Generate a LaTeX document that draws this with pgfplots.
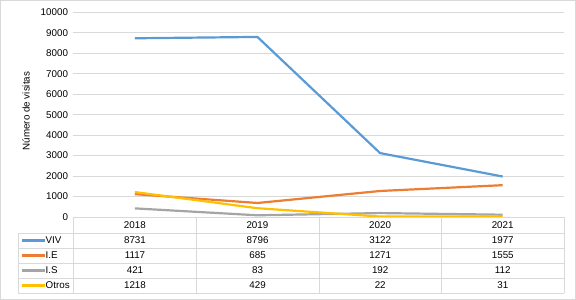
\documentclass[border=0pt]{standalone}
\usepackage{pgfplots}
\usepackage{pgfplotstable}
\pgfplotsset{compat=1.18}
\usepackage{fontspec}
\setmainfont{Liberation Sans}
\definecolor{cviv}{HTML}{5B9BD5}
\definecolor{cie}{HTML}{ED7D31}
\definecolor{cis}{HTML}{A5A5A5}
\definecolor{cot}{HTML}{FFC000}
\definecolor{cgrid}{HTML}{D9D9D9}
\pgfplotstableread{
x VIV IE IS Otros
0 8731 1117 421 1218
1 8796 685 83 429
2 3122 1271 192 22
3 1977 1555 112 31
}\datatable
\begin{document}
\begin{tikzpicture}[x=1pt,y=1pt,font=\fontsize{9.8}{11}\selectfont]
\begin{axis}[
  name=ax,
  scale only axis, width=490.5pt, height=204.7pt,
  xmin=-0.5, xmax=3.5, ymin=0, ymax=10000,
  xtick={0,1,2,3}, xticklabels={2018,2019,2020,2021},
  xticklabel style={yshift=-1pt},
  ytick={0,1000,...,10000},
  scaled y ticks=false,
  ymajorgrids, grid style={cgrid, line width=0.8pt},
  axis line style={draw=none},
  major tick length=0pt,
  /pgf/number format/assume math mode=true,
  yticklabel style={/pgf/number format/1000 sep={}, xshift=-2pt},
  clip=false,
]
\addplot[cviv, line width=2.2pt] table[x=x,y=VIV] {\datatable};
\addplot[cie, line width=2.2pt] table[x=x,y=IE] {\datatable};
\addplot[cis, line width=2.2pt] table[x=x,y=IS] {\datatable};
\addplot[cot, line width=2.2pt] table[x=x,y=Otros] {\datatable};
\end{axis}
\begin{scope}[shift={([shift={(-73.5,-83)}]ax.south west)}]
\draw[cgrid] (0.5,0.5) rectangle (575.5,299.5);
\node[rotate=90] at (26,189) {Número de visitas};
% table grid
\draw[cgrid, line width=0.8pt] (73.5,83) -- (564,83);
\foreach \yy in {67,52,37,22,7} {\draw[cgrid, line width=0.8pt] (18,\yy) -- (564,\yy);}
\draw[cgrid, line width=0.8pt] (18,67) -- (18,7);
\foreach \xx in {73.5,196,319,441,564} {\draw[cgrid, line width=0.8pt] (\xx,83) -- (\xx,7);}
% row labels
\foreach \lab/\col/\r in {VIV/cviv/0,I.E/cie/1,I.S/cis/2,Otros/cot/3}{
  \draw[\col, line width=2.2pt] (22,{59.5-15*\r}) -- (45,{59.5-15*\r});
  \node[anchor=west, inner sep=0pt] at (45.5,{59.5-15*\r}) {\lab};
}
\foreach \col/\r in {VIV/0,IE/1,IS/2,Otros/3}{
  \foreach \i in {0,...,3}{
    \pgfplotstablegetelem{\i}{\col}\of\datatable
    \node at ({135+122.6*\i},{59.5-15*\r}) {\pgfplotsretval};
  }
}
\pgfresetboundingbox
\path[use as bounding box] (0,0) rectangle (576,300);
\end{scope}
\end{tikzpicture}
\end{document}
